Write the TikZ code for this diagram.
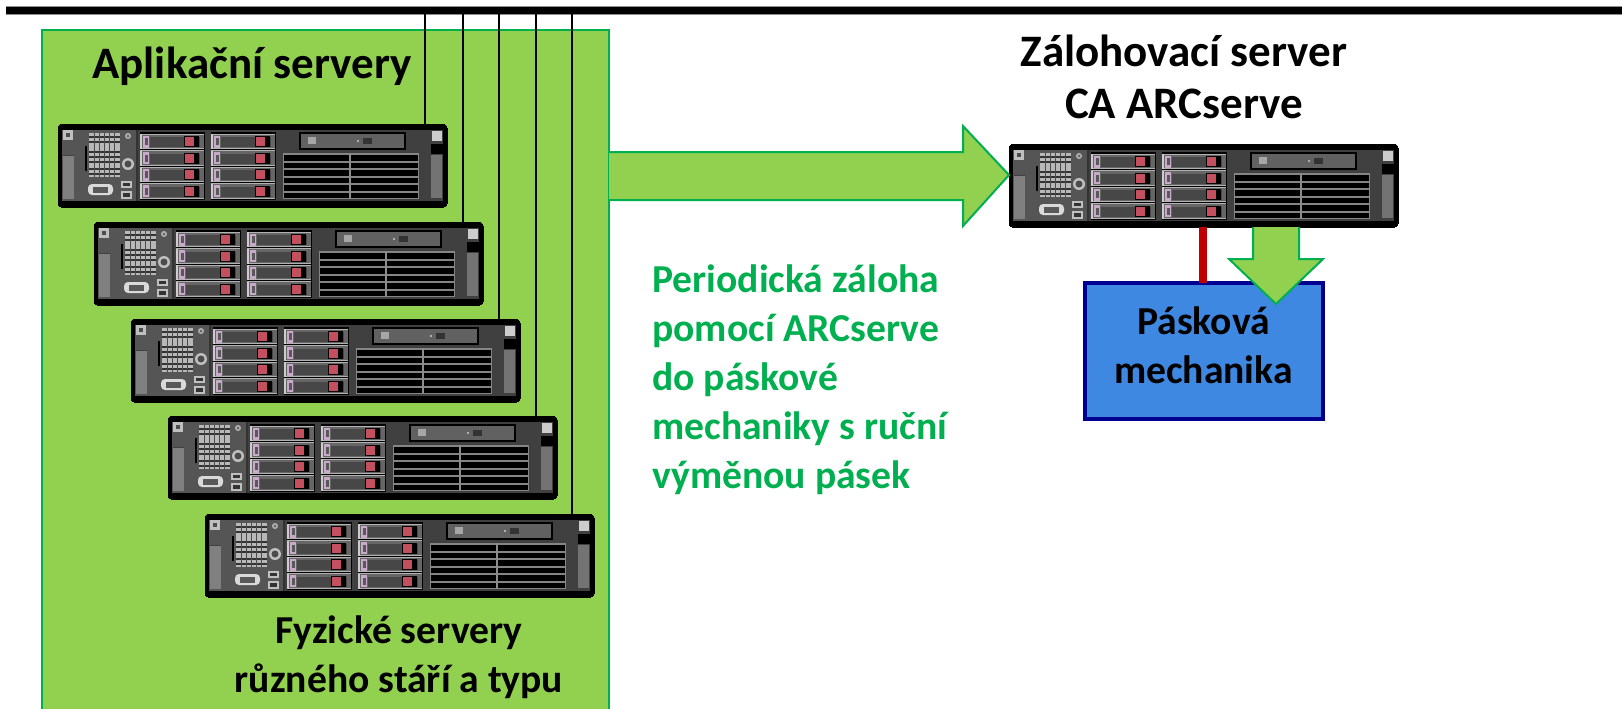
\documentclass[tikz,border=0pt]{standalone}
\usepackage{fontspec}
\setmainfont{Carlito}
\usetikzlibrary{calc}
\definecolor{appgreen}{HTML}{92D050}
\definecolor{edgegreen}{HTML}{00B050}
\definecolor{tapeblue}{HTML}{3F88E2}
\definecolor{tapeedge}{HTML}{000090}
\definecolor{linkred}{HTML}{C00000}
\definecolor{panel}{HTML}{404040}
\definecolor{panelb}{HTML}{555555}
\definecolor{ledred}{HTML}{C4505F}
\definecolor{latch}{HTML}{C9A9C9}
\tikzset{
  x=0.5pt,y=-0.5pt,
  lbl/.style={font=\bfseries\fontsize{19.8}{24.5}\selectfont,align=center,inner sep=0pt,text=black},
  lblbig/.style={lbl,font=\bfseries\fontsize{22.5}{26}\selectfont},
  serverbox/.style={draw=black,fill=black,line width=0pt,rounded corners=2pt,anchor=north west,minimum width=194.5pt,minimum height=41.5pt,inner sep=0pt,outer sep=0pt},
  bigarrow/.style={draw=edgegreen,fill=appgreen,line width=1pt,line join=miter},
  bus/.style={draw=black,line width=0.85pt},
  serverface/.pic={
    \fill[panel] (4,5.5) rectangle (385,77);
    \fill[panelb] (4,5.5) rectangle (78,77);
    % hp logo and handle
    \fill[black!25] (5,6) rectangle (15,16);
    \fill[black!70] (8,9) rectangle (12,13);
    \fill[black!50] (5,31) rectangle (16,75);
    \fill[black!75] (5,31) rectangle (16,32);
    \fill[black] (27,22) rectangle (29,47);
    % status panel
    \fill[black!28] (31,9) rectangle (62,53);
    \foreach \yy in {13,18,28,33,38,45,50}{\draw[black!80,line width=0.6pt] (31,\yy) -- (62,\yy);}
    \foreach \xx in {36,41,46,51,56}{\draw[black!70,line width=0.4pt] (\xx,9) -- (\xx,53);}
    % buttons
    \fill[black!30] (70,12) circle[radius=3];
    \fill[black!60] (70,12) circle[radius=1.5];
    \fill[black!25] (70,40) circle[radius=6];
    \fill[black!70] (70,40) circle[radius=3.5];
    % vga and usb
    \fill[white!85!black,rounded corners=2pt] (30,60) rectangle (55,71);
    \fill[black!65] (35,62.5) rectangle (50,68.5);
    \fill[black!25] (63,57) rectangle (74,64);
    \fill[black!80] (65,59) rectangle (72,62);
    \fill[black!25] (63,67) rectangle (74,75);
    \fill[black!80] (65,69) rectangle (72,73);
    \fill[black!80] (78,5.5) rectangle (79.5,77);
    % drive bays
    \foreach \bx in {82,153}{
      \fill[black] (\bx,8) rectangle ++(65,68);
      \foreach \dy in {10,26.5,43,59.5}{
        \fill[black!60] (\bx,\dy) rectangle ++(64,14.5);
        \fill[black!72] (\bx+10,\dy+3) rectangle ++(50,10);
        \draw[white!70!black,line width=0.4pt] (\bx,\dy) -- ++(64,0);
        \draw[white!70!black,line width=0.4pt] (\bx,\dy+14.5) -- ++(64,0);
        \fill[white!80!black] (\bx,\dy) rectangle ++(2,15);
        \fill[latch] (\bx+3,\dy+1.5) rectangle ++(6,12);
        \fill[black!65] (\bx+5,\dy+4) rectangle ++(3,7);
        \fill[black] (\bx+44,\dy+2) rectangle ++(15,11);
        \fill[ledred] (\bx+45,\dy+3) rectangle ++(9,9);
      }
    }
    % dvd
    \fill[black] (241,8) rectangle (348,26);
    \fill[black!62] (243,10) rectangle (346,24);
    \fill[black!35] (250,13) rectangle (258,20);
    \fill[black!80] (305,14) rectangle (314,20);
    \fill[white] (300,17) circle[radius=0.8];
    % vents
    \fill[black!48] (225,29) rectangle (361,75);
    \foreach \vy in {31,38.5,46,53.5,61,68.5}{\fill[black] (226,\vy) rectangle (360,\vy+5.5);}
    \draw[black!45,line width=0.6pt] (292,29) -- (292,75);
    % right rail
    \fill[black!20] (374,7) rectangle (384,17);
    \fill[black] (373,20) rectangle (385,30);
    \fill[black!55] (373,31) rectangle (384,74);
  }
}
\begin{document}
\begin{tikzpicture}
\useasboundingbox (0,0) rectangle (1622,708);
\fill[white] (0,0) rectangle (1622,708);
% application group, runs off the page bottom
\node[draw=edgegreen,fill=appgreen,line width=1pt,anchor=north west,minimum width=283.5pt,minimum height=345pt,inner sep=0pt,outer sep=0pt] (apps) at (42,30) {};
% bus
\fill[black] (6,6.5) rectangle (1622,14.5);
\draw[black!45,line width=0.4pt] (6,6.5) -- (1622,6.5);
\draw[black!45,line width=0.4pt] (6,14.5) -- (1622,14.5);
\coordinate (bus1) at (425,14);
\coordinate (bus2) at (463,14);
\coordinate (bus3) at (499,14);
\coordinate (bus4) at (536,14);
\coordinate (bus5) at (572,14);
% servers
\node[serverbox] (s1) at (58,124) {};
\node[serverbox] (s2) at (94,222) {};
\node[serverbox] (s3) at (131,319) {};
\node[serverbox] (s4) at (168,416) {};
\node[serverbox] (s5) at (205,514) {};
\node[serverbox] (bk) at (1009,144) {};
\foreach \s in {s1,s2,s3,s4,s5,bk}{\pic at (\s.north west) {serverface};}
\foreach \i in {1,...,5}{\draw[bus] (bus\i) -- (bus\i |- s\i.north);}
% tape
\node[draw=tapeedge,fill=tapeblue,line width=2pt,anchor=north west,minimum width=119pt,minimum height=68pt,inner sep=0pt,outer sep=0pt] (tape) at (1084.5,283) {};
\draw[linkred,line width=4pt] (tape.north -| 1203,0) -- (bk.south -| 1203,0);
% big arrows
\draw[bigarrow] (apps.north east |- 0,152) -- (963,152) -- (963,126) -- (bk.west |- 0,175) -- (963,226) -- (963,200) -- (apps.north east |- 0,200);
\draw[bigarrow] (bk.south -| 1253,0) -- (1253,259) -- (1229,259) -- (1276,304) -- (1323,259) -- (1299,259) -- (bk.south -| 1299,0);
% texts
\node[lblbig] (t1) at (252,66) {Aplikační servery};
\node[lblbig] (t2) at (1184,77) {Zálohovací server\\CA ARCserve};
\node[lbl] (t3) at (399,657) {Fyzické servery\\různého stáří a typu};
\node[lbl] (t4) at (tape.center |- 0,345) {Pásková\\mechanika};
\node[lbl,align=left,text=edgegreen,anchor=west] (t5) at (652,380) {Periodická záloha\\pomocí ARCserve\\do páskové\\mechaniky s ruční\\výměnou pásek};
\end{tikzpicture}
\end{document}
